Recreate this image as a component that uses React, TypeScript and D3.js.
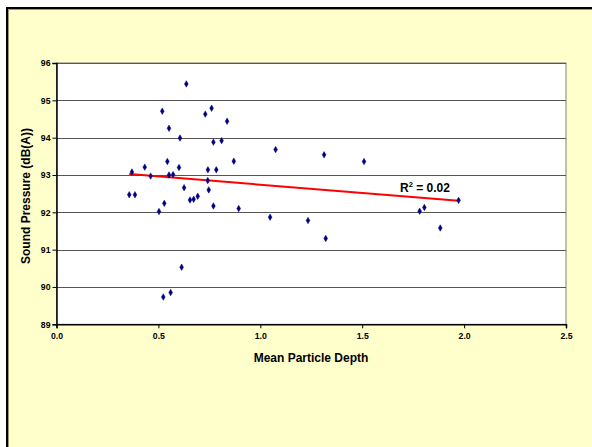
import React, { useEffect, useRef } from 'react';
import * as d3 from 'd3';

// mean particle depth vs sound pressure
const depth = [
  0.637, 0.519, 0.730, 0.761, 0.837, 0.552, 0.606, 0.770, 0.810, 1.075,
  0.870, 0.544, 0.433, 0.601, 0.743, 0.784, 0.370, 0.462, 0.552, 0.572,
  0.742, 0.626, 0.747, 0.357, 0.385, 0.529, 0.503, 0.655, 0.673, 0.693,
  0.770, 0.894, 1.048, 0.614, 0.560, 0.524, 1.313, 1.509, 1.234, 1.321,
  1.782, 1.805, 1.883, 1.973
];
const pressure = [
  95.44, 94.71, 94.63, 94.79, 94.44, 94.25, 93.99, 93.88, 93.92, 93.68,
  93.37, 93.36, 93.21, 93.20, 93.14, 93.14, 93.08, 92.97, 93.00, 93.01,
  92.85, 92.66, 92.60, 92.47, 92.47, 92.24, 92.02, 92.33, 92.35, 92.43,
  92.17, 92.10, 91.87, 90.53, 89.85, 89.73, 93.54, 93.36, 91.78, 91.30,
  92.03, 92.13, 91.58, 92.32
];
const xTicks = [0, 0.5, 1.0, 1.5, 2.0, 2.5];
const yTicks = [89, 90, 91, 92, 93, 94, 95, 96];
const rSquaredLabel = '0.02';

const W = 592, H = 447;
const plot = { left: 56.5, top: 63, right: 566, bottom: 324.3 };
const font = 'Arial, "Liberation Sans", sans-serif';

function App() {
  const ref = useRef<SVGGElement>(null);

  useEffect(() => {
    const g = d3.select(ref.current);
    g.selectAll('*').remove();

    const x = d3.scaleLinear().domain([0, 2.5]).range([plot.left, plot.right]);
    const y = d3.scaleLinear().domain([89, 96]).range([plot.bottom, plot.top]);

    // plot area
    g.append('rect')
      .attr('x', plot.left).attr('y', plot.top)
      .attr('width', plot.right - plot.left).attr('height', plot.bottom - plot.top)
      .attr('fill', '#fff').attr('stroke', '#808080').attr('stroke-width', 1);

    // gridlines
    g.append('g').selectAll('line')
      .data(yTicks.slice(1))
      .enter().append('line')
      .attr('x1', plot.left).attr('x2', plot.right)
      .attr('y1', d => Math.round(y(d)) + 0.5).attr('y2', d => Math.round(y(d)) + 0.5)
      .attr('stroke', '#555').attr('stroke-width', 1.2);

    // axes
    const yAxis = g.append('g').attr('transform', `translate(${plot.left},0)`)
      .call(d3.axisLeft(y).tickValues(yTicks).tickSize(4).tickFormat(d3.format('d')));
    const xAxis = g.append('g').attr('transform', `translate(0,${plot.bottom})`)
      .call(d3.axisBottom(x).tickValues(xTicks).tickSize(4).tickFormat(d3.format('.1f')));
    [yAxis, xAxis].forEach(a => {
      a.select('.domain').attr('stroke', '#000').attr('stroke-width', 1.5);
      a.selectAll('.tick line').attr('stroke', '#000');
      a.selectAll('.tick text')
        .attr('font-family', font)
        .attr('font-size', 8.7).attr('font-weight', 'bold').attr('fill', '#000');
    });
    yAxis.selectAll('.tick text').attr('x', -6);
    xAxis.selectAll('.tick text').attr('y', 9);

    // trendline (least squares)
    const mx = d3.mean(depth) as number, my = d3.mean(pressure) as number;
    let sxy = 0, sxx = 0;
    depth.forEach((d, i) => { sxy += (d - mx) * (pressure[i] - my); sxx += (d - mx) * (d - mx); });
    const slope = sxy / sxx, icpt = my - slope * mx;
    const [x0, x1] = d3.extent(depth) as [number, number];
    g.append('line')
      .attr('x1', x(x0)).attr('y1', y(icpt + slope * x0))
      .attr('x2', x(x1)).attr('y2', y(icpt + slope * x1))
      .attr('stroke', '#ff0000').attr('stroke-width', 2);

    // points
    const diamond = d3.symbol().type(d3.symbolDiamond).size(12);
    g.append('g').selectAll('path')
      .data(depth)
      .enter().append('path')
      .attr('transform', (d, i) => `translate(${x(d)},${y(pressure[i])})`)
      .attr('d', diamond)
      .attr('fill', '#000080').attr('stroke', '#000080').attr('stroke-width', 0.5);

    // R squared label
    const lbl = g.append('text')
      .attr('x', 400).attr('y', 192)
      .attr('font-family', font)
      .attr('font-size', 12).attr('font-weight', 'bold').attr('fill', '#000');
    lbl.append('tspan').text('R');
    lbl.append('tspan').attr('font-size', 7.5).attr('dy', -5).text('2');
    lbl.append('tspan').attr('dy', 5).text(' = ' + rSquaredLabel);
  }, []);

  return (
    <svg width={W} height={H} style={{ position: 'absolute', left: 0, top: 0, display: 'block' }}>
      <rect x={0} y={0} width={W} height={H} fill="#fff" />
      <rect x={6} y={7} width={W} height={H} fill="#FFFFCC" />
      <path d={`M7,${H} V8 H${W}`} fill="none" stroke="#000" strokeWidth={2} />
      <path d={`M8.5,${H} V9.5 H${W}`} fill="none" stroke="#99996a" strokeWidth={1} />
      <g ref={ref} />
      <text x={311} y={362} textAnchor="middle" fontFamily={font}
        fontSize={12} fontWeight="bold">Mean Particle Depth</text>
      <text transform="translate(30,196) rotate(-90)" textAnchor="middle"
        fontFamily={font} fontSize={12} fontWeight="bold">
        Sound Pressure (dB(A))
      </text>
    </svg>
  );
}

export default App;
